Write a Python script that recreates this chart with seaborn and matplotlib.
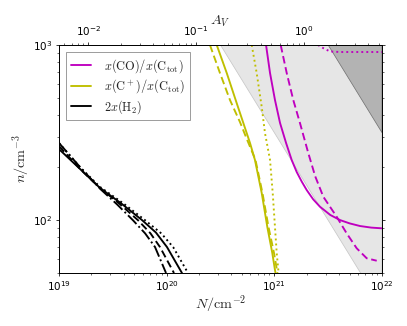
import numpy as np
import matplotlib
matplotlib.use("Agg")
import matplotlib.pyplot as plt
from matplotlib.lines import Line2D
import seaborn as sns

# curves, stored as log10(N / cm^-2) and log10(n / cm^-3)
co_solid_logN = [20.923, 20.960, 21.006, 21.053, 21.109, 21.161, 21.208, 21.255, 21.301, 21.36, 21.424, 21.520, 21.610, 21.700, 21.796, 21.900, 21.997]
co_solid_logn = [3.000, 2.840, 2.686, 2.555, 2.441, 2.344, 2.275, 2.220, 2.172, 2.120, 2.077, 2.030, 2.001, 1.982, 1.967, 1.958, 1.954]
co_dash_logN = [21.059, 21.115, 21.176, 21.238, 21.315, 21.380, 21.455, 21.579, 21.672, 21.765, 21.858, 21.951]
co_dash_logn = [3.000, 2.840, 2.686, 2.555, 2.384, 2.250, 2.134, 2.020, 1.925, 1.840, 1.783, 1.769]
co_dot_logN = [21.405, 21.452, 21.517, 21.610, 22.000]
co_dot_logn = [3.000, 2.983, 2.963, 2.960, 2.960]

cp_solid_logN = [20.465, 20.558, 20.650, 20.712, 20.774, 20.820, 20.883, 20.935, 20.981, 21.006, 21.011]
cp_solid_logn = [3.000, 2.840, 2.669, 2.555, 2.441, 2.344, 2.155, 1.961, 1.813, 1.716, 1.699]
cp_dash_logN = [20.402, 20.495, 20.588, 20.681, 20.740, 20.825, 20.890, 20.946, 20.997, 21.029]
cp_dash_logn = [3.000, 2.840, 2.686, 2.560, 2.470, 2.344, 2.155, 1.961, 1.813, 1.699]
cp_dot_logN = [20.790, 20.836, 20.883, 20.913, 20.960, 20.985, 21.006, 21.022, 21.037, 21.039]
cp_dot_logn = [3.000, 2.840, 2.646, 2.498, 2.344, 2.155, 1.961, 1.813, 1.716, 1.699]

h2_solid_logN = [19.0, 19.2, 19.381, 19.58, 19.771, 19.90, 20.003, 20.142]
h2_solid_logn = [2.406, 2.290, 2.184, 2.095, 2.001, 1.930, 1.847, 1.699]
h2_dash_logN = [19.0, 19.2, 19.381, 19.56, 19.734, 19.85, 19.938, 20.068]
h2_dash_logn = [2.423, 2.290, 2.184, 2.095, 2.000, 1.925, 1.847, 1.699]
h2_dashdot_logN = [19.0, 19.2, 19.381, 19.54, 19.687, 19.80, 19.892, 19.994]
h2_dashdot_logn = [2.441, 2.300, 2.180, 2.090, 2.000, 1.925, 1.847, 1.699]
h2_dot_logN = [19.0, 19.2, 19.381, 19.60, 19.800, 19.95, 20.060, 20.198]
h2_dot_logn = [2.441, 2.300, 2.190, 2.095, 2.000, 1.925, 1.847, 1.699]

# shaded regions: n > const / N
light_const = 10**23.5
dark_const = 10**24.5
N_edges = [1e19, 1e22]

NH_per_AV = 1.87e21
labels = [r"$x(\mathrm{CO})/x(\mathrm{C}_\mathrm{tot})$",
          r"$x(\mathrm{C}^+)/x(\mathrm{C}_\mathrm{tot})$",
          r"$2x(\mathrm{H}_2)$"]

sns.set_style("ticks")
plt.rcParams["mathtext.fontset"] = "cm"
plt.rcParams["font.family"] = ["DejaVu Sans"]
plt.rcParams["axes.edgecolor"] = "black"
plt.rcParams["xtick.color"] = "black"
plt.rcParams["ytick.color"] = "black"
plt.rcParams["xtick.labelsize"] = 11
plt.rcParams["ytick.labelsize"] = 11

W, H, DPI = 407, 326, 68
fig = plt.figure(figsize=(W / DPI, H / DPI), dpi=DPI)
ax = fig.add_axes([59 / W, 1 - 273 / H, 323 / W, 228 / H])

Ne = np.array(N_edges)
ax.fill_between(Ne, light_const / Ne, 1e4, facecolor="0.9", edgecolor="0.78", lw=0.8, zorder=0)
ax.fill_between(Ne, dark_const / Ne, 1e4, facecolor="0.7", edgecolor="0.45", lw=0.8, zorder=0)

mag = (0.75, 0, 0.75)
yel = (0.75, 0.75, 0)
dash = (0, (4, 2))

def curve(lx, ly, color, ls):
    sns.lineplot(x=10**np.array(lx), y=10**np.array(ly), ax=ax, color=color,
                 linestyle=ls, lw=2, sort=False, estimator=None)

curve(co_solid_logN, co_solid_logn, mag, "-")
curve(co_dash_logN, co_dash_logn, mag, dash)
curve(co_dot_logN, co_dot_logn, mag, ":")
curve(cp_solid_logN, cp_solid_logn, yel, "-")
curve(cp_dash_logN, cp_dash_logn, yel, dash)
curve(cp_dot_logN, cp_dot_logn, yel, ":")
curve(h2_solid_logN, h2_solid_logn, "k", "-")
curve(h2_dash_logN, h2_dash_logn, "k", dash)
curve(h2_dashdot_logN, h2_dashdot_logn, "k", "-.")
curve(h2_dot_logN, h2_dot_logn, "k", ":")

ax.set_xscale("log")
ax.set_yscale("log")
ax.set_xlim(1e19, 1e22)
ax.set_ylim(50, 1000)
ax.set_xlabel(r"$N/\mathrm{cm}^{-2}$", fontsize=15, labelpad=0)
ax.set_ylabel(r"$n/\mathrm{cm}^{-3}$", fontsize=15, labelpad=0)
ax.tick_params(which="both", direction="out", right=True, top=False)
for s in ax.spines.values():
    s.set_linewidth(1.0)

ax2 = ax.twiny()
ax2.set_xscale("log")
ax2.set_xlim(1e19 / NH_per_AV, 1e22 / NH_per_AV)
ax2.set_xlabel(r"$A_V$", fontsize=15, labelpad=0)
ax2.tick_params(which="both", direction="out")

handles = [Line2D([], [], color=c, lw=2) for c in (mag, yel, "k")]
leg = ax.legend(handles, labels, loc="upper left", fancybox=False, framealpha=1,
                edgecolor="0.5", borderaxespad=0.6, fontsize=13,
                labelspacing=0.2, handlelength=1.6, handletextpad=1.1)
leg.get_frame().set_linewidth(0.8)

fig.savefig("out.png", dpi=DPI)
